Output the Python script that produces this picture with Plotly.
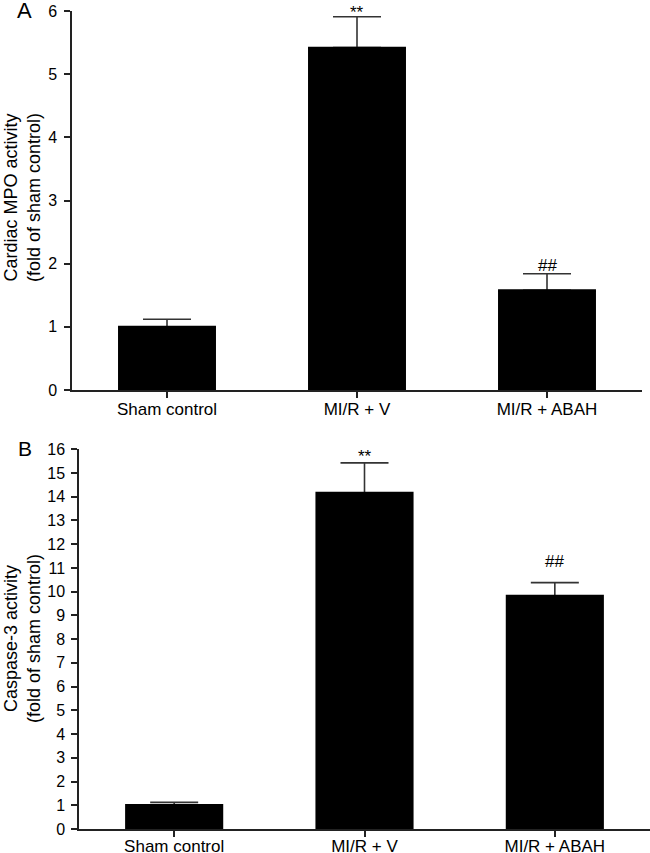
import plotly.graph_objects as go

categories = ["Sham control", "MI/R + V", "MI/R + ABAH"]
mpo_values = [1.0, 5.42, 1.58]
mpo_err = [0.12, 0.49, 0.26]
mpo_marks = ["", "**", "##"]
casp_values = [1.01, 14.17, 9.83]
casp_err = [0.11, 1.26, 0.55]
casp_marks = ["", "**", "##"]
mpo_ticks = list(range(0, 7))
casp_ticks = list(range(0, 17))

W, H = 650, 853
FONT = "Liberation Sans, Arial, sans-serif"
AX = "#222222"
ERR = "#333333"


def px_x(p):
    return p / W


def px_y(p):
    return 1 - p / H


fig = go.Figure()

panels = [
    ("x", "y", mpo_values, mpo_err),
    ("x2", "y2", casp_values, casp_err),
]
for xa, ya, vals, errs in panels:
    # error bars (drawn under the bars so the lower part is hidden)
    fig.add_trace(go.Bar(
        x=categories, y=vals, xaxis=xa, yaxis=ya,
        marker=dict(color="rgba(0,0,0,0)", line=dict(width=0)),
        error_y=dict(type="data", array=errs, arrayminus=[0] * len(errs),
                     symmetric=False, color=ERR, thickness=1.6, width=24),
        showlegend=False, hoverinfo="skip",
    ))
    fig.add_trace(go.Bar(
        x=categories, y=vals, xaxis=xa, yaxis=ya,
        marker=dict(color="#000000", line=dict(color="#000000", width=2)),
        showlegend=False,
    ))

axis_common = dict(
    showline=True, linecolor=AX, linewidth=1.5,
    ticks="outside", ticklen=6, tickwidth=1.5, tickcolor=AX,
    showgrid=False, zeroline=False, automargin=False,
)
xfont = dict(family=FONT, size=17, color="#000000")
yfont = dict(family=FONT, size=16, color="#000000")

fig.update_layout(
    template="none",
    width=W, height=H,
    margin=dict(l=0, r=0, t=0, b=0, pad=0),
    plot_bgcolor="white", paper_bgcolor="white",
    barmode="overlay", bargap=0.495,
    xaxis=dict(domain=[px_x(72), px_x(642)], anchor="y",
               range=[-0.5, 2.5], tickfont=xfont, ticklabelstandoff=-3,
               **axis_common),
    yaxis=dict(domain=[px_y(390), px_y(11)], anchor="x",
               range=[0, 6], tickvals=mpo_ticks, tickfont=yfont,
               ticklabelstandoff=4, **axis_common),
    xaxis2=dict(domain=[px_x(79), px_x(650)], anchor="y2",
                range=[-0.5, 2.5], tickfont=xfont, ticklabelstandoff=-5,
                **axis_common),
    yaxis2=dict(domain=[px_y(829), px_y(449.3)], anchor="x2",
                range=[0, 16], tickvals=casp_ticks, tickfont=yfont,
                ticklabelstandoff=3, **axis_common),
)

annotations = []
# significance marks
shifts_a = {"**": -7, "##": -3}
shifts_b = {"**": -5, "##": 10}
for vals, errs, marks, xr, yr, shifts in [
    (mpo_values, mpo_err, mpo_marks, "x", "y", shifts_a),
    (casp_values, casp_err, casp_marks, "x2", "y2", shifts_b),
]:
    for c, v, e, m in zip(categories, vals, errs, marks):
        if not m:
            continue
        annotations.append(dict(
            x=c, y=v + e, xref=xr, yref=yr, text=m, showarrow=False,
            yanchor="bottom", yshift=shifts[m],
            font=dict(family=FONT, size=17, color="#000000"),
        ))

# y-axis titles
annotations.append(dict(
    x=px_x(22), y=px_y(198), xref="paper", yref="paper",
    text="Cardiac MPO activity<br>(fold of sham control)",
    textangle=-90, showarrow=False, xanchor="center", yanchor="middle",
    font=dict(family=FONT, size=18, color="#000000"),
))
annotations.append(dict(
    x=px_x(22), y=px_y(639), xref="paper", yref="paper",
    text="Caspase-3 activity<br>(fold of sham control)",
    textangle=-90, showarrow=False, xanchor="center", yanchor="middle",
    font=dict(family=FONT, size=18, color="#000000"),
))
# panel letters
annotations.append(dict(
    x=px_x(24), y=px_y(10), xref="paper", yref="paper", text="A",
    showarrow=False, xanchor="center", yanchor="middle",
    font=dict(family=FONT, size=22, color="#000000"),
))
annotations.append(dict(
    x=px_x(24.5), y=px_y(449), xref="paper", yref="paper", text="B",
    showarrow=False, xanchor="center", yanchor="middle",
    font=dict(family=FONT, size=21, color="#000000"),
))
fig.update_layout(annotations=annotations)

fig.write_html(
    "out.html",
    config={"displayModeBar": False},
    post_script="document.body.style.margin='0px';"
                "document.body.style.overflow='hidden';",
)
